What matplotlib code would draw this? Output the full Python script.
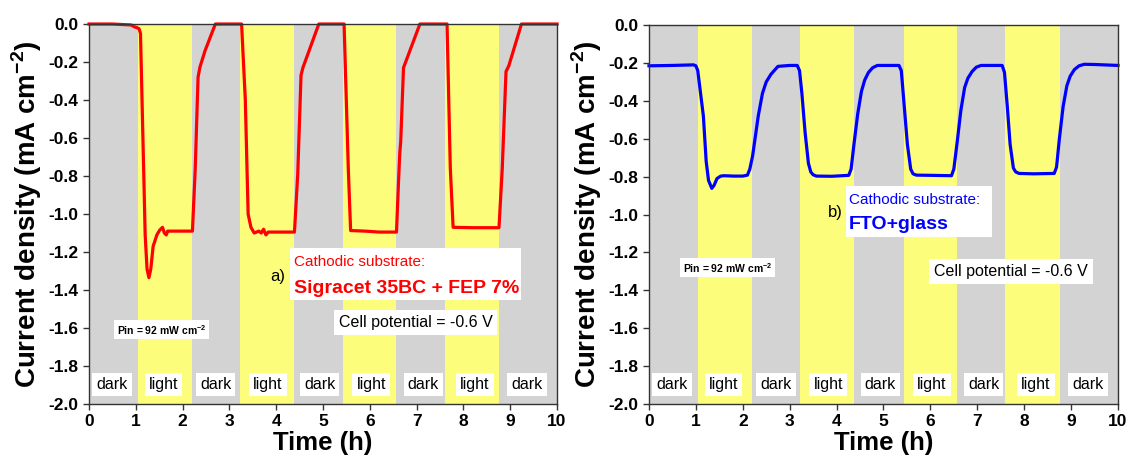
import numpy as np
import matplotlib.pyplot as plt
from matplotlib.patches import Rectangle

plt.rcParams['font.family'] = ['Liberation Sans', 'DejaVu Sans']
plt.rcParams['mathtext.fontset'] = 'custom'
plt.rcParams['mathtext.rm'] = 'Liberation Sans'
plt.rcParams['mathtext.bf'] = 'Liberation Sans:bold'

# Illumination periods (h): dark / light alternating
band_edges = [0, 1.05, 2.20, 3.22, 4.38, 5.43, 6.56, 7.60, 8.76, 10]
band_names = ['dark', 'light', 'dark', 'light', 'dark', 'light', 'dark', 'light', 'dark']
label_x = [0.49, 1.59, 2.71, 3.82, 4.93, 6.03, 7.14, 8.25, 9.36]
y_ticks = [-2.0, -1.8, -1.6, -1.4, -1.2, -1.0, -0.8, -0.6, -0.4, -0.2, 0.0]
y_tick_labels = ['-2.0', '-1.8', '-1.6', '-1.4', '-1.2', '-1.0', '-0.8', '-0.6',
                 '-0.4', '-0.2', '0.0']

# a) Sigracet 35BC + FEP 7%
t_a = [0, 0.5, 0.9, 0.97, 1.03, 1.07, 1.10, 1.15, 1.20, 1.24, 1.28, 1.32, 1.37,
       1.45, 1.51, 1.57, 1.61, 1.65, 1.68, 1.9, 2.21, 2.27, 2.33, 2.37, 2.48,
       2.70, 3.0, 3.26, 3.34, 3.40, 3.46, 3.53, 3.58, 3.63, 3.68, 3.73, 3.78,
       3.83, 3.9, 4.1, 4.39, 4.46, 4.53, 4.57, 4.91, 5.2, 5.45, 5.54, 5.59,
       5.9, 6.2, 6.57, 6.61, 6.64, 6.66, 6.72, 7.07, 7.3, 7.65, 7.72, 7.78,
       8.2, 8.76, 8.83, 8.91, 8.97, 9.24, 9.6, 10]
j_a = [0, 0, -0.005, -0.015, -0.02, -0.025, -0.05, -0.58, -1.11, -1.29, -1.335,
       -1.29, -1.17, -1.11, -1.085, -1.07, -1.10, -1.11, -1.09, -1.09, -1.09,
       -0.76, -0.28, -0.227, -0.14, 0, 0, 0, -0.40, -1.00, -1.07, -1.10, -1.095,
       -1.09, -1.10, -1.08, -1.11, -1.095, -1.095, -1.095, -1.095, -0.79, -0.27,
       -0.23, 0, 0, 0, -0.76, -1.087, -1.09, -1.095, -1.095, -0.85, -0.68,
       -0.62, -0.23, 0, 0, 0, -0.76, -1.07, -1.072, -1.072, -0.76, -0.25, -0.22,
       0, 0, 0]

# b) FTO+glass
t_b = [0, 0.5, 0.95, 1.0, 1.04, 1.08, 1.16, 1.22, 1.27, 1.34, 1.39, 1.45, 1.53,
       1.6, 1.8, 2.0, 2.10, 2.15, 2.21, 2.33, 2.42, 2.50, 2.60, 2.75, 3.0, 3.16,
       3.21, 3.26, 3.33, 3.40, 3.45, 3.50, 3.57, 3.9, 4.26, 4.31, 4.37, 4.45,
       4.53, 4.60, 4.68, 4.77, 4.87, 5.0, 5.33, 5.38, 5.44, 5.51, 5.58, 5.63,
       5.70, 6.0, 6.45, 6.50, 6.57, 6.65, 6.73, 6.80, 6.89, 6.98, 7.08, 7.3,
       7.53, 7.58, 7.64, 7.70, 7.77, 7.82, 7.89, 8.2, 8.64, 8.69, 8.75, 8.83,
       8.91, 8.98, 9.07, 9.17, 9.28, 9.5, 10]
j_b = [-0.215, -0.213, -0.21, -0.215, -0.24, -0.32, -0.48, -0.72, -0.82,
       -0.862, -0.845, -0.81, -0.797, -0.795, -0.797, -0.797, -0.792, -0.76,
       -0.69, -0.48, -0.36, -0.30, -0.26, -0.218, -0.213, -0.213, -0.24, -0.36,
       -0.57, -0.73, -0.775, -0.79, -0.797, -0.798, -0.793, -0.76, -0.63,
       -0.47, -0.35, -0.29, -0.25, -0.225, -0.213, -0.213, -0.213, -0.24,
       -0.42, -0.63, -0.76, -0.785, -0.792, -0.793, -0.795, -0.76, -0.62,
       -0.45, -0.33, -0.28, -0.245, -0.222, -0.213, -0.213, -0.213, -0.25,
       -0.43, -0.63, -0.755, -0.775, -0.783, -0.785, -0.783, -0.75, -0.60,
       -0.43, -0.32, -0.27, -0.235, -0.215, -0.207, -0.208, -0.213]

gray = '#d3d3d3'
yellow = '#fdfd7c'
box = dict(facecolor='white', edgecolor='none', boxstyle='square,pad=0.25')

fig = plt.figure(figsize=(11.31, 4.61), dpi=100)
ax1 = fig.add_axes([0.0787, 0.1236, 0.4138, 0.8243])
ax2 = fig.add_axes([0.5738, 0.1236, 0.4147, 0.8220])


def setup(ax, t, j, color):
    for k, name in enumerate(band_names):
        ax.axvspan(band_edges[k], band_edges[k + 1],
                   color=gray if name == 'dark' else yellow, lw=0, zorder=0)
        ax.text(label_x[k], -1.895, name, fontsize=11.5, ha='center',
                va='center', bbox=box, zorder=3)
    ax.plot(t, j, color=color, lw=2.3, zorder=2, clip_on=False)
    ax.set_xlim(0, 10)
    ax.set_ylim(-2.0, 0.0)
    ax.set_xticks(np.arange(0, 11, 1))
    ax.set_yticks(y_ticks)
    ax.set_yticklabels(y_tick_labels)
    ax.tick_params(direction='out', length=4, width=1, labelsize=12.5,
                   colors='#333333', labelcolor='black')
    for lab in ax.get_xticklabels() + ax.get_yticklabels():
        lab.set_fontweight('bold')
    for sp in ax.spines.values():
        sp.set_color('#333333')
        sp.set_linewidth(1)
    ax.set_xlabel('Time (h)', fontsize=18.5, fontweight='bold', labelpad=1)
    ax.set_ylabel(r'Current density (mA cm$^{\mathbf{-2}}$)', fontsize=20,
                  fontweight='bold', labelpad=3)


setup(ax1, t_a, j_a, '#ff0000')
setup(ax2, t_b, j_b, '#0000ff')

# panel a annotations
ax1.text(1.55, -1.61, r'Pin = 92 mW cm$^{\mathbf{-2}}$', fontsize=7.5,
         fontweight='bold', ha='center', va='center', bbox=box, zorder=3)
ax1.add_patch(Rectangle((4.29, -1.45), 4.95, 0.27, facecolor='white',
                        edgecolor='none', zorder=3))
ax1.text(4.04, -1.33, 'a)', fontsize=12, ha='center', va='center', zorder=4)
ax1.text(4.37, -1.255, 'Cathodic substrate:', fontsize=11, color='#ff0000',
         ha='left', va='center', zorder=4)
ax1.text(4.37, -1.39, 'Sigracet 35BC + FEP 7%', fontsize=14, fontweight='bold',
         color='#ff0000', ha='left', va='center', zorder=4)
ax1.text(6.98, -1.57, 'Cell potential = -0.6 V', fontsize=11.5, ha='center',
         va='center', bbox=dict(facecolor='white', edgecolor='none',
                                boxstyle='square,pad=0.3'), zorder=3)

# panel b annotations
ax2.text(1.68, -1.28, r'Pin = 92 mW cm$^{\mathbf{-2}}$', fontsize=7.5,
         fontweight='bold', ha='center', va='center', bbox=box, zorder=3)
ax2.add_patch(Rectangle((4.20, -1.12), 3.11, 0.27, facecolor='white',
                        edgecolor='none', zorder=3))
ax2.text(3.97, -0.99, 'b)', fontsize=12, ha='center', va='center', zorder=4)
ax2.text(4.26, -0.925, 'Cathodic substrate:', fontsize=11, color='#0000ff',
         ha='left', va='center', zorder=4)
ax2.text(4.26, -1.05, 'FTO+glass', fontsize=14, fontweight='bold',
         color='#0000ff', ha='left', va='center', zorder=4)
ax2.text(7.72, -1.30, 'Cell potential = -0.6 V', fontsize=11.5, ha='center',
         va='center', bbox=dict(facecolor='white', edgecolor='none',
                                boxstyle='square,pad=0.3'), zorder=3)

fig.savefig('out.png', dpi=100)
